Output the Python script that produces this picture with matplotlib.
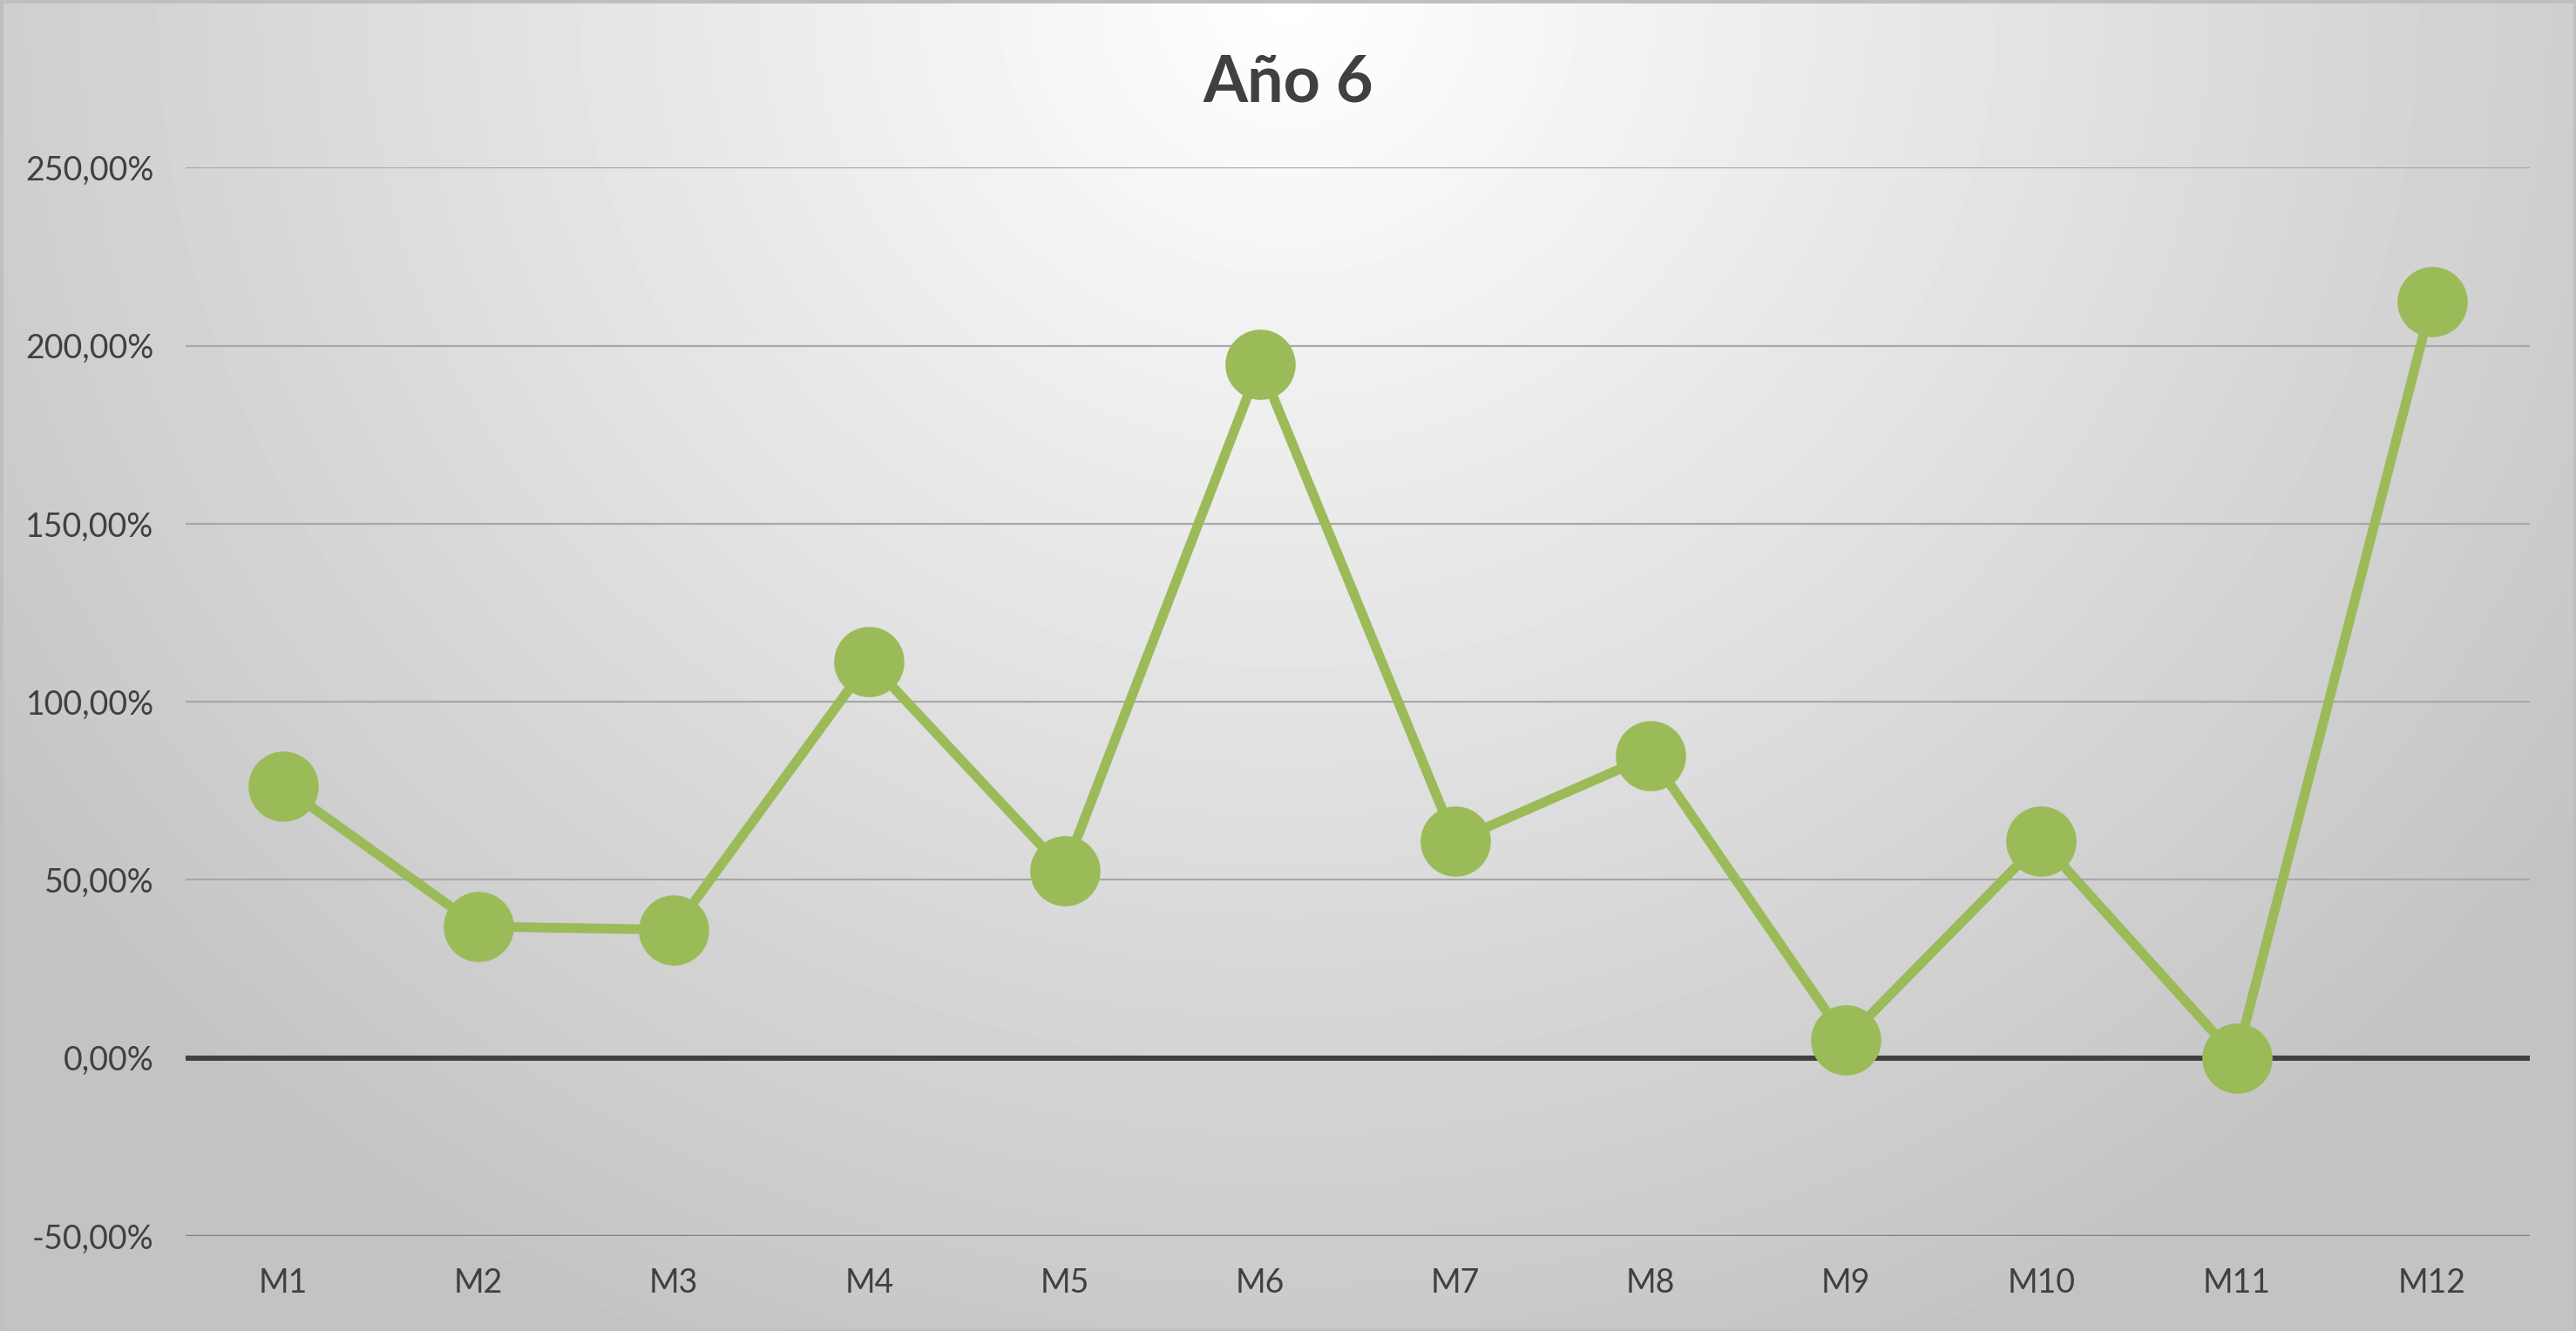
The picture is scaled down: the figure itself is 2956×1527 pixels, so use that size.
import numpy as np
import matplotlib
matplotlib.use("Agg")
import matplotlib.pyplot as plt
from matplotlib.ticker import FuncFormatter, MultipleLocator
from matplotlib.patches import Rectangle

# Data (percent)
months = ["M1", "M2", "M3", "M4", "M5", "M6", "M7", "M8", "M9", "M10", "M11", "M12"]
growth_pct = [76.2, 36.9, 36.0, 111.3, 52.6, 194.8, 60.9, 84.9, 5.1, 60.9, 0.0, 212.4]
title_text = "Año 6"

GREEN = "#9BBB59"
TEXT = "#404040"

plt.rcParams["font.family"] = ["Lato", "DejaVu Sans"]

fig = plt.figure(figsize=(29.56, 15.27), dpi=100)

# Radial grey gradient background, white near top centre
bg = fig.add_axes([0, 0, 1, 1], zorder=-10)
gx, gy = np.meshgrid(np.linspace(0, 1, 600), np.linspace(0, 1, 310))
dist = np.sqrt(((gx - 0.5) / 0.55) ** 2 + (gy / 1.0) ** 2)
shade = 255 - 60 * np.clip(dist / 1.12, 0, 1)
bg.imshow(shade, cmap="gray", vmin=0, vmax=255, aspect="auto",
          extent=(0, 1, 1, 0), interpolation="bilinear")
bg.set_xlim(0, 1)
bg.set_ylim(1, 0)
bg.axis("off")

fig.patches.append(Rectangle((0, 0), 1, 1, transform=fig.transFigure,
                             fill=False, edgecolor="#bfbfbf", linewidth=5))

ax = fig.add_axes([0.072, 0.0714, 0.910, 0.8026])
ax.set_facecolor("none")

x = np.arange(len(months))
ax.plot(x, growth_pct, color=GREEN, linewidth=8, marker="o", markersize=57,
        markerfacecolor=GREEN, markeredgecolor=GREEN, zorder=5,
        solid_joinstyle="round")

ax.set_xlim(-0.5, len(months) - 0.5)
ax.set_ylim(-50, 250)
ax.yaxis.set_major_locator(MultipleLocator(50))
ax.yaxis.set_major_formatter(
    FuncFormatter(lambda v, _: f"{v:.2f}".replace(".", ",") + "%"))
ax.set_xticks(x)
ax.set_xticklabels(months)

ax.grid(axis="y", color="#a8a8a8", linewidth=1.6)
ax.set_axisbelow(True)
ax.axhline(0, color=TEXT, linewidth=4.3, zorder=3)
ax.axhline(-50, color="#808080", linewidth=2.4, zorder=3)

for side in ax.spines.values():
    side.set_visible(False)
ax.tick_params(axis="both", length=0, labelsize=27, labelcolor=TEXT)
ax.tick_params(axis="y", pad=26)
ax.tick_params(axis="x", pad=26)

fig.text(0.5, 0.938, title_text, ha="center", va="center", fontsize=53,
         fontweight="bold", color=TEXT)

fig.savefig("out.png", dpi=100)
